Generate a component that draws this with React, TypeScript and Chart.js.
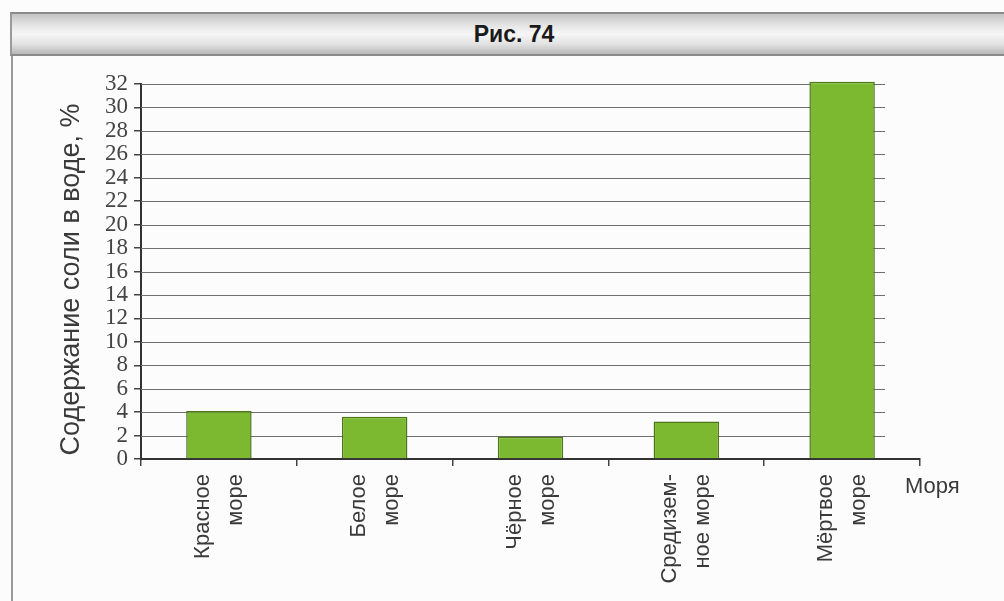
import React, { useEffect, useRef } from "react";
import { Chart, registerables } from "chart.js";

Chart.register(...registerables);

const categories: string[][] = [
  ["Красное", "море"],
  ["Белое", "море"],
  ["Чёрное", "море"],
  ["Средизем-", "ное море"],
  ["Мёртвое", "море"],
];
const salinity: number[] = [4.1, 3.6, 1.9, 3.2, 32.2];
const yMin = 0;
const yMax = 32;
const yStep = 2;
const figureTitle = "Рис. 74";
const yTitle = "Содержание соли в воде, %";
const xTitle = "Моря";

const extras = {
  id: "extras",
  beforeDatasetsDraw(chart: any) {
    const { ctx, chartArea, scales } = chart;
    const y = scales.y;
    ctx.save();
    ctx.strokeStyle = "#6e6e6e";
    ctx.lineWidth = 1.2;
    y.ticks.forEach((t: any) => {
      if (t.value === 0) return;
      const py = Math.round(y.getPixelForValue(t.value)) + 0.5;
      ctx.beginPath();
      ctx.moveTo(chartArea.left, py);
      ctx.lineTo(chartArea.right - 35, py);
      ctx.stroke();
    });
    ctx.restore();
  },
  afterDraw(chart: any) {
    const { ctx, chartArea } = chart;
    ctx.save();
    ctx.fillStyle = "#3a3a3a";
    ctx.font = "22px 'Liberation Sans', Arial, sans-serif";
    ctx.textAlign = "left";
    ctx.textBaseline = "middle";
    ctx.fillText(xTitle, chartArea.right - 15, chartArea.bottom + 28);
    // y axis title
    ctx.translate(chartArea.left - 69, (chartArea.top + chartArea.bottom) / 2 + 8);
    ctx.rotate(-Math.PI / 2);
    ctx.font = "27px 'Liberation Sans', Arial, sans-serif";
    ctx.textAlign = "center";
    ctx.fillText(yTitle, 0, 0);
    ctx.restore();
  },
};

export default function App() {
  const ref = useRef<HTMLCanvasElement>(null);
  useEffect(() => {
    document.body.style.margin = "0";
    const chart = new Chart(ref.current!, {
      type: "bar",
      data: {
        labels: categories as any,
        datasets: [
          {
            data: salinity,
            backgroundColor: "#7cb830",
            borderColor: "#4d7619",
            borderWidth: 1.5,
            barPercentage: 0.42,
            categoryPercentage: 1,
            clip: false as any,
          },
        ],
      },
      options: {
        animation: false,
        responsive: false,
        maintainAspectRatio: false,
        layout: { padding: { top: 84, right: 84, left: 0, bottom: 0 } },
        plugins: { legend: { display: false }, tooltip: { enabled: false }, title: { display: false } },
        scales: {
          x: {
            offset: true,
            grid: { drawOnChartArea: false, drawTicks: true, tickLength: 7, color: "#444", lineWidth: 1.5, offset: true },
            border: { color: "#333", width: 2 },
            ticks: {
              autoSkip: false,
              minRotation: 90,
              maxRotation: 90,
              padding: 8,
              labelOffset: -16,
              color: "#3a3a3a",
              font: { family: "'Liberation Sans', Arial, sans-serif", size: 22, lineHeight: 1.5 },
            },
            afterFit: (s: any) => {
              s.height = 142;
            },
          },
          y: {
            min: yMin,
            max: yMax,
            grid: { drawOnChartArea: false, drawTicks: true, tickLength: 7, color: "#444", lineWidth: 1.5 },
            border: { color: "#333", width: 2 },
            ticks: {
              stepSize: yStep,
              autoSkip: false,
              padding: 6,
              color: "#444",
              font: { family: "'Liberation Serif', 'DejaVu Serif', serif", size: 23, lineHeight: 1 },
            },
            afterFit: (s: any) => {
              s.width = 141;
            },
          },
        },
      },
      plugins: [extras],
    });
    return () => chart.destroy();
  }, []);

  return (
    <div style={{ position: "absolute", left: 0, top: 0, width: 1004, height: 601, background: "#fcfcfc", overflow: "hidden" }}>
      <div
        style={{
          position: "absolute",
          left: 10,
          top: 12,
          width: 994,
          height: 44,
          boxSizing: "border-box",
          borderTop: "2px solid #8a8a8a",
          borderBottom: "2px solid #8a8a8a",
          borderLeft: "2px solid #9a9a9a",
          background: "linear-gradient(to bottom, #c4c4c4 0%, #e6e6e6 30%, #f6f6f6 50%, #e2e2e2 75%, #b8b8b8 100%)",
          display: "flex",
          alignItems: "center",
          justifyContent: "center",
        }}
      >
        <span style={{ fontFamily: "'Liberation Sans', Arial, sans-serif", fontWeight: "bold", fontSize: 23, color: "#1a1a1a", marginLeft: 12 }}>
          {figureTitle}
        </span>
      </div>
      <div style={{ position: "absolute", left: 11, top: 56, width: 2, height: 545, background: "#9a9a9a" }} />
      <canvas ref={ref} width={1004} height={601} style={{ position: "absolute", left: 0, top: 0, width: 1004, height: 601 }} />
    </div>
  );
}
